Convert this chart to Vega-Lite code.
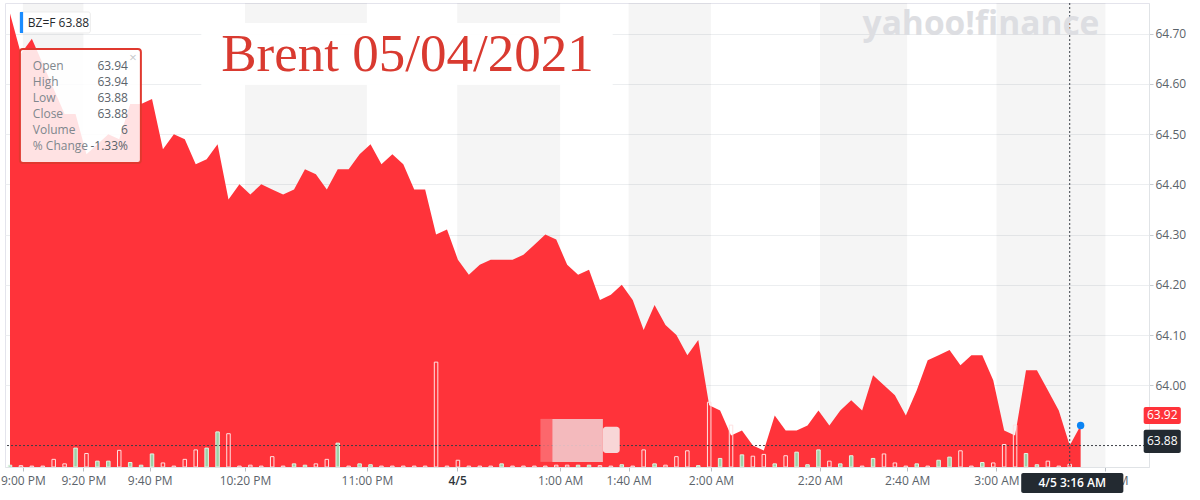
{
  "$schema": "https://vega.github.io/schema/vega-lite/v6.json",
  "width": 1144,
  "height": 464,
  "autosize": {"type": "none"},
  "padding": {"left": 5, "top": 3, "right": 51, "bottom": 33},
  "background": "white",
  "config": {
    "view": {"stroke": "#e4e4ec"},
    "font": "Open Sans",
    "text": {"font": "Open Sans"}
  },
  "datasets": {
    "prices": [
      {"i":0,"price":64.74,"volume":4,"dir":"up"},
      {"i":1,"price":64.66,"volume":3,"dir":"down"},
      {"i":2,"price":64.69,"volume":2,"dir":"down"},
      {"i":3,"price":64.64,"volume":2,"dir":"down"},
      {"i":4,"price":64.59,"volume":17,"dir":"down"},
      {"i":5,"price":64.54,"volume":7,"dir":"down"},
      {"i":6,"price":64.54,"volume":42,"dir":"up"},
      {"i":7,"price":64.46,"volume":30,"dir":"down"},
      {"i":8,"price":64.48,"volume":13,"dir":"up"},
      {"i":9,"price":64.50,"volume":13,"dir":"up"},
      {"i":10,"price":64.49,"volume":37,"dir":"down"},
      {"i":11,"price":64.56,"volume":10,"dir":"up"},
      {"i":12,"price":64.56,"volume":4,"dir":"up"},
      {"i":13,"price":64.57,"volume":29,"dir":"up"},
      {"i":14,"price":64.47,"volume":9,"dir":"down"},
      {"i":15,"price":64.50,"volume":2,"dir":"down"},
      {"i":16,"price":64.49,"volume":17,"dir":"down"},
      {"i":17,"price":64.44,"volume":38,"dir":"down"},
      {"i":18,"price":64.45,"volume":42,"dir":"up"},
      {"i":19,"price":64.48,"volume":78,"dir":"up"},
      {"i":20,"price":64.37,"volume":74,"dir":"down"},
      {"i":21,"price":64.40,"volume":2,"dir":"down"},
      {"i":22,"price":64.38,"volume":4,"dir":"down"},
      {"i":23,"price":64.40,"volume":2,"dir":"down"},
      {"i":24,"price":64.39,"volume":23,"dir":"down"},
      {"i":25,"price":64.38,"volume":2,"dir":"down"},
      {"i":26,"price":64.39,"volume":7,"dir":"up"},
      {"i":27,"price":64.43,"volume":4,"dir":"up"},
      {"i":28,"price":64.42,"volume":7,"dir":"down"},
      {"i":29,"price":64.39,"volume":17,"dir":"down"},
      {"i":30,"price":64.43,"volume":53,"dir":"up"},
      {"i":31,"price":64.43,"volume":2,"dir":"down"},
      {"i":32,"price":64.46,"volume":7,"dir":"up"},
      {"i":33,"price":64.48,"volume":5,"dir":"up"},
      {"i":34,"price":64.44,"volume":2,"dir":"down"},
      {"i":35,"price":64.46,"volume":2,"dir":"down"},
      {"i":36,"price":64.44,"volume":2,"dir":"down"},
      {"i":37,"price":64.39,"volume":2,"dir":"down"},
      {"i":38,"price":64.39,"volume":2,"dir":"down"},
      {"i":39,"price":64.30,"volume":233,"dir":"down"},
      {"i":40,"price":64.31,"volume":2,"dir":"down"},
      {"i":41,"price":64.25,"volume":15,"dir":"down"},
      {"i":42,"price":64.22,"volume":2,"dir":"down"},
      {"i":43,"price":64.24,"volume":2,"dir":"down"},
      {"i":44,"price":64.25,"volume":2,"dir":"down"},
      {"i":45,"price":64.25,"volume":7,"dir":"up"},
      {"i":46,"price":64.25,"volume":2,"dir":"down"},
      {"i":47,"price":64.26,"volume":2,"dir":"down"},
      {"i":48,"price":64.28,"volume":2,"dir":"down"},
      {"i":49,"price":64.30,"volume":2,"dir":"down"},
      {"i":50,"price":64.29,"volume":4,"dir":"down"},
      {"i":51,"price":64.24,"volume":4,"dir":"down"},
      {"i":52,"price":64.22,"volume":4,"dir":"up"},
      {"i":53,"price":64.23,"volume":4,"dir":"up"},
      {"i":54,"price":64.17,"volume":3,"dir":"down"},
      {"i":55,"price":64.18,"volume":2,"dir":"down"},
      {"i":56,"price":64.20,"volume":5,"dir":"up"},
      {"i":57,"price":64.17,"volume":2,"dir":"down"},
      {"i":58,"price":64.11,"volume":38,"dir":"down"},
      {"i":59,"price":64.16,"volume":7,"dir":"up"},
      {"i":60,"price":64.12,"volume":4,"dir":"down"},
      {"i":61,"price":64.10,"volume":23,"dir":"down"},
      {"i":62,"price":64.06,"volume":36,"dir":"down"},
      {"i":63,"price":64.09,"volume":3,"dir":"up"},
      {"i":64,"price":63.96,"volume":144,"dir":"down"},
      {"i":65,"price":63.95,"volume":19,"dir":"up"},
      {"i":66,"price":63.90,"volume":93,"dir":"down"},
      {"i":67,"price":63.91,"volume":27,"dir":"up"},
      {"i":68,"price":63.88,"volume":24,"dir":"down"},
      {"i":69,"price":63.87,"volume":28,"dir":"down"},
      {"i":70,"price":63.94,"volume":7,"dir":"up"},
      {"i":71,"price":63.91,"volume":25,"dir":"down"},
      {"i":72,"price":63.91,"volume":33,"dir":"up"},
      {"i":73,"price":63.92,"volume":5,"dir":"up"},
      {"i":74,"price":63.95,"volume":38,"dir":"up"},
      {"i":75,"price":63.92,"volume":13,"dir":"down"},
      {"i":76,"price":63.95,"volume":7,"dir":"up"},
      {"i":77,"price":63.97,"volume":25,"dir":"up"},
      {"i":78,"price":63.95,"volume":2,"dir":"down"},
      {"i":79,"price":64.02,"volume":19,"dir":"up"},
      {"i":80,"price":64.00,"volume":29,"dir":"down"},
      {"i":81,"price":63.98,"volume":9,"dir":"down"},
      {"i":82,"price":63.94,"volume":2,"dir":"down"},
      {"i":83,"price":63.99,"volume":7,"dir":"up"},
      {"i":84,"price":64.05,"volume":2,"dir":"down"},
      {"i":85,"price":64.06,"volume":15,"dir":"up"},
      {"i":86,"price":64.07,"volume":22,"dir":"up"},
      {"i":87,"price":64.04,"volume":36,"dir":"down"},
      {"i":88,"price":64.06,"volume":2,"dir":"down"},
      {"i":89,"price":64.06,"volume":10,"dir":"up"},
      {"i":90,"price":64.01,"volume":9,"dir":"down"},
      {"i":91,"price":63.91,"volume":50,"dir":"down"},
      {"i":92,"price":63.90,"volume":93,"dir":"down"},
      {"i":93,"price":64.03,"volume":30,"dir":"up"},
      {"i":94,"price":64.03,"volume":5,"dir":"up"},
      {"i":95,"price":63.99,"volume":13,"dir":"down"},
      {"i":96,"price":63.95,"volume":2,"dir":"down"},
      {"i":97,"price":63.88,"volume":6,"dir":"down"},
      {"i":98,"price":63.92,"volume":null,"dir":"up"}
    ],
    "bands": [
      {"start":1.18,"end":6.72},
      {"start":21.51,"end":32.67},
      {"start":40.93,"end":50.36},
      {"start":56.62,"end":64.16},
      {"start":74.14,"end":82.12},
      {"start":90.29,"end":100.27}
    ]
  },
  "data": {"name": "prices"},
  "resolve": {"scale": {"y": "independent"}},
  "layer": [
    {
      "layer": [
        {
          "data": {"name": "bands"},
          "mark": {"type": "rect", "color": "#000000", "opacity": 0.04},
          "encoding": {
            "x": {"field": "start", "type": "quantitative", "title": null, "scale": {"domain": [0, 103.8], "nice": false, "zero": false}},
            "x2": {"field": "end"}
          }
        },
        {
          "mark": {"type": "area", "color": "#ff333a", "clip": true, "interpolate": "linear"},
          "encoding": {
            "x": {"field": "i", "type": "quantitative", "title": null, "scale": {"domain": [0, 103.8], "nice": false, "zero": false}},
            "y": {
              "field": "price", "type": "quantitative",
              "scale": {"domain": [63.8373, 64.7611], "nice": false, "zero": false},
              "axis": {
                "orient": "right", "title": null, "grid": true, "gridColor": "#eceef0",
                "values": [64.0, 64.1, 64.2, 64.3, 64.4, 64.5, 64.6, 64.7],
                "format": ".2f",
                "labelFont": "Open Sans", "labelFontSize": 12, "labelColor": "#5b636a",
                "labelPadding": 2, "labelFlush": false, "labelOverlap": false,
                "tickSize": 4, "tickColor": "#c9cdd1", "domainColor": "#e0e3e6"
              }
            }
          }
        }
      ]
    },
    {
      "mark": {"type": "bar", "size": 3.5, "strokeWidth": 1, "clip": true},
      "encoding": {
        "x": {
          "field": "i", "type": "quantitative",
          "scale": {"domain": [0, 103.8], "nice": false, "zero": false},
          "axis": {
            "orient": "bottom", "title": null, "grid": false,
            "values": [1.18, 6.72, 12.79, 21.51, 32.67, 40.93, 50.36, 56.62, 64.16, 74.14, 82.12, 90.29, 100.27],
            "labelExpr": "datum.value < 2 ? '9:00 PM' : datum.value < 7 ? '9:20 PM' : datum.value < 13 ? '9:40 PM' : datum.value < 22 ? '10:20 PM' : datum.value < 33 ? '11:00 PM' : datum.value < 41 ? '4/5' : datum.value < 51 ? '1:00 AM' : datum.value < 57 ? '1:40 AM' : datum.value < 65 ? '2:00 AM' : datum.value < 75 ? '2:20 AM' : datum.value < 83 ? '2:40 AM' : datum.value < 91 ? '3:00 AM' : '3:20 AM'",
            "labelFont": "Open Sans", "labelFontSize": 12,
            "labelColor": {"condition": {"test": "datum.value > 40 && datum.value < 41", "value": "#2f353b"}, "value": "#5b636a"},
            "labelFontWeight": {"condition": {"test": "datum.value > 40 && datum.value < 41", "value": 600}, "value": 400},
            "labelPadding": 4, "labelFlush": false, "labelOverlap": false, "labelBound": false,
            "tickSize": 4, "tickColor": "#b9bec3", "domainColor": "#e0e3e6"
          }
        },
        "y": {"field": "volume", "type": "quantitative", "scale": {"domain": [0, 1031], "nice": false, "zero": true}, "axis": null},
        "fill": {"field": "dir", "type": "nominal", "scale": {"domain": ["up", "down"], "range": ["#9dd1a7", "rgba(0,0,0,0)"]}, "legend": null},
        "stroke": {"field": "dir", "type": "nominal", "scale": {"domain": ["up", "down"], "range": ["#e3f4e6", "#ffe1e1"]}, "legend": null}
      }
    },
    {
      "data": {"values": [{}]},
      "layer": [
        {
          "mark": {"type": "rule", "color": "#3c4148", "strokeDash": [2, 2], "strokeWidth": 1},
          "encoding": {
            "y": {"datum": 63.88, "type": "quantitative", "scale": {"domain": [63.8373, 64.7611], "nice": false, "zero": false}, "axis": null}
          }
        },
        {
          "mark": {"type": "rule", "color": "#3c4148", "strokeDash": [2, 2], "strokeWidth": 1},
          "encoding": {
            "x": {"datum": 97, "type": "quantitative", "scale": {"domain": [0, 103.8], "nice": false, "zero": false}}
          }
        },
        {
          "mark": {"type": "rect", "color": "#fb7479", "opacity": 0.8},
          "encoding": {
            "x": {"datum": 48.55, "type": "quantitative", "scale": {"domain": [0, 103.8], "nice": false, "zero": false}},
            "x2": {"datum": 49.64},
            "y": {"datum": 63.9331, "type": "quantitative", "scale": {"domain": [63.8373, 64.7611], "nice": false, "zero": false}, "axis": null},
            "y2": {"datum": 63.8475}
          }
        },
        {
          "mark": {"type": "rect", "color": "#f3c9cc", "opacity": 0.9},
          "encoding": {
            "x": {"datum": 49.64, "type": "quantitative", "scale": {"domain": [0, 103.8], "nice": false, "zero": false}},
            "x2": {"datum": 54.27},
            "y": {"datum": 63.9331, "type": "quantitative", "scale": {"domain": [63.8373, 64.7611], "nice": false, "zero": false}, "axis": null},
            "y2": {"datum": 63.8475}
          }
        },
        {
          "mark": {"type": "rect", "color": "#f8d6d7", "cornerRadius": 3},
          "encoding": {
            "x": {"datum": 54.27, "type": "quantitative", "scale": {"domain": [0, 103.8], "nice": false, "zero": false}},
            "x2": {"datum": 55.81},
            "y": {"datum": 63.9172, "type": "quantitative", "scale": {"domain": [63.8373, 64.7611], "nice": false, "zero": false}, "axis": null},
            "y2": {"datum": 63.8652}
          }
        },
        {
          "mark": {"type": "point", "filled": true, "color": "#0b84f3", "size": 55, "opacity": 1},
          "encoding": {
            "x": {"datum": 98, "type": "quantitative", "scale": {"domain": [0, 103.8], "nice": false, "zero": false}},
            "y": {"datum": 63.92, "type": "quantitative", "scale": {"domain": [63.8373, 64.7611], "nice": false, "zero": false}, "axis": null}
          }
        },
        {
          "mark": {"type": "rect", "color": "#ffffff", "opacity": 0.95},
          "encoding": {
            "x": {"datum": 17.51, "type": "quantitative", "scale": {"domain": [0, 103.8], "nice": false, "zero": false}},
            "x2": {"datum": 55.17},
            "y": {"datum": 64.7213, "type": "quantitative", "scale": {"domain": [63.8373, 64.7611], "nice": false, "zero": false}, "axis": null},
            "y2": {"datum": 64.5979}
          }
        },
        {
          "mark": {"type": "text", "font": "Liberation Serif", "fontSize": 53, "color": "#d93a30", "align": "left", "baseline": "alphabetic", "text": "Brent 05/04/2021"},
          "encoding": {
            "x": {"datum": 19.33, "type": "quantitative", "scale": {"domain": [0, 103.8], "nice": false, "zero": false}},
            "y": {"datum": 64.6257, "type": "quantitative", "scale": {"domain": [63.8373, 64.7611], "nice": false, "zero": false}, "axis": null}
          }
        },
        {
          "mark": {"type": "text", "font": "Open Sans", "fontWeight": "bold", "fontSize": 33.5, "color": "#dddee2", "align": "left", "baseline": "alphabetic", "text": "yahoo!finance"},
          "encoding": {
            "x": {"datum": 78.04, "type": "quantitative", "scale": {"domain": [0, 103.8], "nice": false, "zero": false}},
            "y": {"datum": 64.6974, "type": "quantitative", "scale": {"domain": [63.8373, 64.7611], "nice": false, "zero": false}, "axis": null}
          }
        },
        {
          "mark": {"type": "rect", "fill": "#ffffff", "fillOpacity": 0.86, "stroke": "#e0392f", "strokeWidth": 2, "cornerRadius": 3},
          "encoding": {
            "x": {"datum": 0.907, "type": "quantitative", "scale": {"domain": [0, 103.8], "nice": false, "zero": false}},
            "x2": {"datum": 11.98},
            "y": {"datum": 64.6695, "type": "quantitative", "scale": {"domain": [63.8373, 64.7611], "nice": false, "zero": false}, "axis": null},
            "y2": {"datum": 64.4426}
          }
        },
        {
          "mark": {"type": "text", "fontSize": 12, "color": "#80878d", "align": "left", "baseline": "middle", "lineHeight": 16, "text": ["Open", "High", "Low", "Close", "Volume", "% Change"]},
          "encoding": {
            "x": {"datum": 2.09, "type": "quantitative", "scale": {"domain": [0, 103.8], "nice": false, "zero": false}},
            "y": {"datum": 64.6357, "type": "quantitative", "scale": {"domain": [63.8373, 64.7611], "nice": false, "zero": false}, "axis": null}
          }
        },
        {
          "mark": {"type": "text", "fontSize": 12, "color": "#5b636a", "align": "right", "baseline": "middle", "lineHeight": 16, "text": ["63.94", "63.94", "63.88", "63.88", "6", "-1.33%"]},
          "encoding": {
            "x": {"datum": 10.8, "type": "quantitative", "scale": {"domain": [0, 103.8], "nice": false, "zero": false}},
            "y": {"datum": 64.6357, "type": "quantitative", "scale": {"domain": [63.8373, 64.7611], "nice": false, "zero": false}, "axis": null}
          }
        },
        {
          "mark": {"type": "text", "fontSize": 13, "color": "#c4c7ca", "align": "center", "baseline": "middle", "text": "×"},
          "encoding": {
            "x": {"datum": 11.25, "type": "quantitative", "scale": {"domain": [0, 103.8], "nice": false, "zero": false}},
            "y": {"datum": 64.6516, "type": "quantitative", "scale": {"domain": [63.8373, 64.7611], "nice": false, "zero": false}, "axis": null}
          }
        },
        {
          "mark": {"type": "rect", "fill": "#ffffff", "stroke": "#ececec", "strokeWidth": 1, "cornerRadius": 2},
          "encoding": {
            "x": {"datum": 0.907, "type": "quantitative", "scale": {"domain": [0, 103.8], "nice": false, "zero": false}},
            "x2": {"datum": 7.35},
            "y": {"datum": 64.7432, "type": "quantitative", "scale": {"domain": [63.8373, 64.7611], "nice": false, "zero": false}, "axis": null},
            "y2": {"datum": 64.7014}
          }
        },
        {
          "mark": {"type": "rect", "color": "#1a8cff"},
          "encoding": {
            "x": {"datum": 0.907, "type": "quantitative", "scale": {"domain": [0, 103.8], "nice": false, "zero": false}},
            "x2": {"datum": 1.2},
            "y": {"datum": 64.7432, "type": "quantitative", "scale": {"domain": [63.8373, 64.7611], "nice": false, "zero": false}, "axis": null},
            "y2": {"datum": 64.7014}
          }
        },
        {
          "mark": {"type": "text", "fontSize": 12, "color": "#26292d", "align": "left", "baseline": "middle", "text": "BZ=F  63.88"},
          "encoding": {
            "x": {"datum": 1.63, "type": "quantitative", "scale": {"domain": [0, 103.8], "nice": false, "zero": false}},
            "y": {"datum": 64.7213, "type": "quantitative", "scale": {"domain": [63.8373, 64.7611], "nice": false, "zero": false}, "axis": null}
          }
        },
        {
          "mark": {"type": "rect", "color": "#ff333a", "cornerRadius": 2},
          "encoding": {
            "x": {"datum": 103.77, "type": "quantitative", "scale": {"domain": [0, 103.8], "nice": false, "zero": false}},
            "x2": {"datum": 107.17},
            "y": {"datum": 63.9568, "type": "quantitative", "scale": {"domain": [63.8373, 64.7611], "nice": false, "zero": false}, "axis": null},
            "y2": {"datum": 63.923}
          }
        },
        {
          "mark": {"type": "text", "fontSize": 12, "color": "#ffffff", "align": "center", "baseline": "middle", "text": "63.92"},
          "encoding": {
            "x": {"datum": 105.47, "type": "quantitative", "scale": {"domain": [0, 103.8], "nice": false, "zero": false}},
            "y": {"datum": 63.9399, "type": "quantitative", "scale": {"domain": [63.8373, 64.7611], "nice": false, "zero": false}, "axis": null}
          }
        },
        {
          "mark": {"type": "rect", "color": "#232a31", "cornerRadius": 2},
          "encoding": {
            "x": {"datum": 103.77, "type": "quantitative", "scale": {"domain": [0, 103.8], "nice": false, "zero": false}},
            "x2": {"datum": 107.17},
            "y": {"datum": 63.9115, "type": "quantitative", "scale": {"domain": [63.8373, 64.7611], "nice": false, "zero": false}, "axis": null},
            "y2": {"datum": 63.8652}
          }
        },
        {
          "mark": {"type": "text", "fontSize": 12, "color": "#ffffff", "align": "center", "baseline": "middle", "text": "63.88"},
          "encoding": {
            "x": {"datum": 105.47, "type": "quantitative", "scale": {"domain": [0, 103.8], "nice": false, "zero": false}},
            "y": {"datum": 63.8881, "type": "quantitative", "scale": {"domain": [63.8373, 64.7611], "nice": false, "zero": false}, "axis": null}
          }
        },
        {
          "mark": {"type": "rect", "color": "#232a31", "cornerRadius": 2},
          "encoding": {
            "x": {"datum": 92.56, "type": "quantitative", "scale": {"domain": [0, 103.8], "nice": false, "zero": false}},
            "x2": {"datum": 101.91},
            "y": {"datum": 63.8254, "type": "quantitative", "scale": {"domain": [63.8373, 64.7611], "nice": false, "zero": false}, "axis": null},
            "y2": {"datum": 63.7856}
          }
        },
        {
          "mark": {"type": "text", "fontSize": 12, "fontWeight": 600, "color": "#ffffff", "align": "center", "baseline": "middle", "text": "4/5 3:16 AM"},
          "encoding": {
            "x": {"datum": 97.23, "type": "quantitative", "scale": {"domain": [0, 103.8], "nice": false, "zero": false}},
            "y": {"datum": 63.8055, "type": "quantitative", "scale": {"domain": [63.8373, 64.7611], "nice": false, "zero": false}, "axis": null}
          }
        }
      ]
    }
  ]
}
